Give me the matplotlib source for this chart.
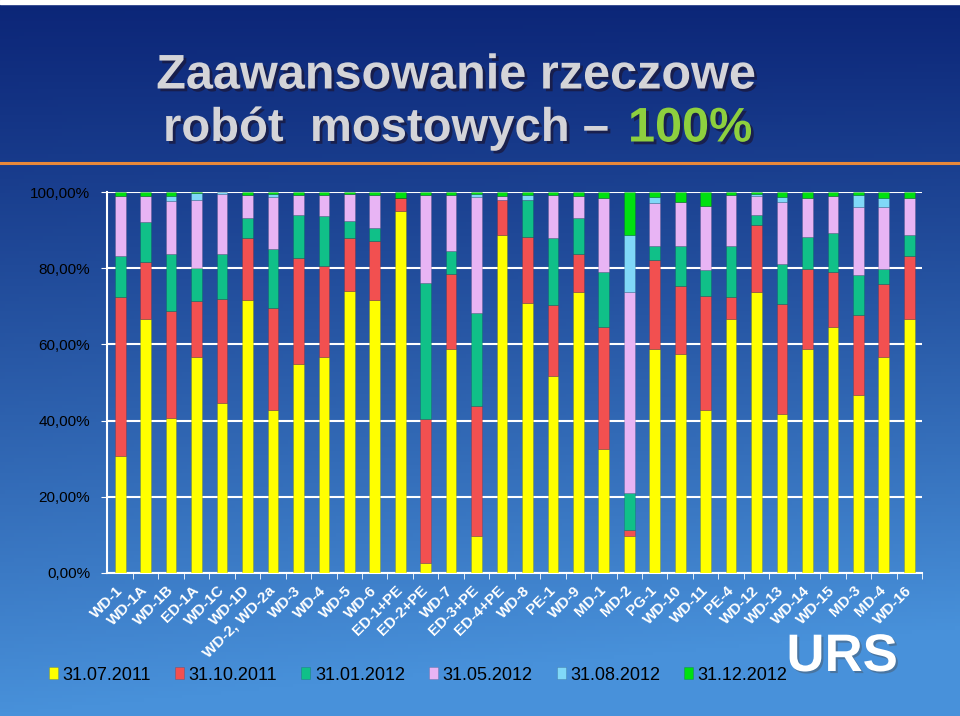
import numpy as np
import matplotlib
matplotlib.use("Agg")
import matplotlib.pyplot as plt
import matplotlib.patheffects as pe
from matplotlib.lines import Line2D
from matplotlib.patches import Rectangle

plt.rcParams['font.family'] = ['Liberation Sans', 'DejaVu Sans']

objects = ["WD-1", "WD-1A", "WD-1B", "ED-1A", "WD-1C", "WD-1D", "WD-2, WD-2a", "WD-3",
           "WD-4", "WD-5", "WD-6", "ED-1+PE", "ED-2+PE", "WD-7", "ED-3+PE", "ED-4+PE",
           "WD-8", "PE-1", "WD-9", "MD-1", "MD-2", "PG-1", "WD-10", "WD-11",
           "PE-4", "WD-12", "WD-13", "WD-14", "WD-15", "MD-3", "MD-4", "WD-16"]

dates = ["31.07.2011", "31.10.2011", "31.01.2012", "31.05.2012", "31.08.2012", "31.12.2012"]

# progress gained in each period (percent of total)
jul_2011 = [30.7, 66.7, 40.7, 56.7, 44.7, 71.7, 42.8, 54.8, 56.8, 73.9, 71.7, 94.9, 2.6, 58.8, 9.8, 88.8,
            70.8, 51.8, 73.7, 32.6, 9.8, 58.8, 57.6, 42.7, 66.7, 73.7, 41.8, 58.8, 64.6, 46.8, 56.8, 66.7]
oct_2011 = [41.8, 14.9, 28.1, 14.7, 27.2, 16.2, 26.7, 27.8, 23.9, 14.0, 15.5, 3.5, 37.9, 19.6, 34.0, 9.2,
            17.4, 18.6, 10.0, 32.0, 1.5, 23.4, 17.6, 30.0, 5.8, 17.7, 28.8, 21.0, 14.3, 20.9, 19.1, 16.4]
jan_2012 = [10.6, 10.4, 14.9, 8.6, 11.9, 5.3, 15.6, 11.3, 13.1, 4.4, 3.3, 0.0, 35.6, 6.2, 24.4, 0.0,
            9.8, 17.5, 9.5, 14.5, 9.8, 3.5, 10.5, 6.7, 13.2, 2.6, 10.5, 8.3, 10.3, 10.4, 3.9, 5.5]
may_2012 = [15.9, 7.0, 14.0, 18.0, 15.7, 6.1, 13.5, 5.4, 5.5, 7.2, 8.8, 0.0, 23.2, 14.7, 30.4, 1.0,
            0.0, 11.4, 5.7, 19.3, 52.6, 11.4, 11.8, 16.8, 13.4, 4.9, 16.4, 10.3, 9.7, 17.9, 16.2, 9.8]
aug_2012 = [0.0, 0.0, 1.3, 1.7, 0.5, 0.0, 0.9, 0.0, 0.0, 0.0, 0.0, 0.0, 0.0, 0.0, 0.9, 0.0,
            1.3, 0.0, 0.0, 0.0, 14.9, 1.5, 0.0, 0.0, 0.0, 0.6, 1.1, 0.0, 0.0, 3.3, 2.4, 0.0]
dec_2012 = [1.0, 1.0, 1.0, 0.3, 0.0, 0.7, 0.5, 0.7, 0.7, 0.5, 0.7, 1.6, 0.7, 0.7, 0.5, 1.0,
            0.7, 0.7, 1.1, 1.6, 11.4, 1.4, 2.5, 3.8, 0.9, 0.5, 1.4, 1.6, 1.1, 0.7, 1.6, 1.6]

series = [jul_2011, oct_2011, jan_2012, may_2012, aug_2012, dec_2012]
colors = ["#ffff00", "#f25050", "#10c088", "#e8b4f4", "#80d8f8", "#00e010"]

yticks = [0, 20, 40, 60, 80, 100]
ytick_labels = ["0,00%", "20,00%", "40,00%", "60,00%", "80,00%", "100,00%"]

W, H = 960, 716
fig = plt.figure(figsize=(9.6, 7.16), dpi=100)

# slide background: dark navy on top, lighter blue towards the bottom
bg = fig.add_axes([0, 0, 1, 1], zorder=-10)
yy, xx = np.mgrid[0:1:200j, 0:1:200j]
top = np.array([12, 38, 120]) / 255
bottom = np.array([72, 145, 218]) / 255
t = np.clip(yy ** 1.1 + 0.15 * xx * yy, 0, 1)[..., None]
img = top * (1 - t) + bottom * t
bg.imshow(img, aspect="auto", extent=[0, 1, 1, 0])
bg.set_xlim(0, 1)
bg.set_ylim(1, 0)
bg.axis("off")
bg.add_patch(Rectangle((0, 1 - 4 / H), 1, 4 / H, color="white", transform=bg.transAxes))

# orange separator under the title
fig.add_artist(Line2D([0, 1], [1 - 163 / H, 1 - 163 / H], color="#e8883a", lw=2.2))

shadow = [pe.withSimplePatchShadow(offset=(2, -2), shadow_rgbFace="#1a1a40", alpha=0.8)]
fig.text(456 / W, 1 - 76 / H, "Zaawansowanie rzeczowe", ha="center", va="center",
         fontsize=35, weight="bold", color="#d4d4d8", path_effects=shadow)
fig.text(163 / W, 1 - 129 / H, "robót  mostowych –", ha="left", va="center",
         fontsize=34, weight="bold", color="#d4d4d8", path_effects=shadow)
fig.text(628 / W, 1 - 129 / H, "100%", ha="left", va="center",
         fontsize=35, weight="bold", color="#8ed03e", path_effects=shadow)

# chart
ax = fig.add_axes([107 / W, 1 - 573 / H, 815 / W, 381 / H])
ax.patch.set_alpha(0)
x = np.arange(len(objects))
base = np.zeros(len(objects))
bars = []
for vals, col, lab in zip(series, colors, dates):
    vals = np.array(vals)
    b = ax.bar(x, vals, 0.42, bottom=base, color=col, label=lab,
               edgecolor=(0, 0, 0, 0.18), linewidth=0.5, zorder=3)
    bars.append(b)
    base += vals

ax.set_xlim(-0.52, 31.48)
ax.set_ylim(0, 100)
ax.set_yticks(yticks)
ax.set_yticklabels(ytick_labels, fontsize=11, color="black")
ax.yaxis.grid(True, color="white", lw=1.5, zorder=1)
ax.set_axisbelow(True)
ax.set_xticks(x)
ax.set_xticklabels(objects, rotation=45, ha="right", va="center", rotation_mode="anchor",
                   fontsize=11, weight="bold", color="white")
ax.set_xticks(x + 0.5, minor=True)
ax.tick_params(axis="x", which="major", length=0, pad=11)
ax.tick_params(axis="x", which="minor", length=4, color="white")
ax.tick_params(axis="y", length=4, color="white", pad=8)
for side in ["top", "right"]:
    ax.spines[side].set_visible(False)
for side in ["left", "bottom"]:
    ax.spines[side].set_color("white")
    ax.spines[side].set_linewidth(1.5)

leg = fig.legend(handles=bars, labels=dates, loc="center left", bbox_to_anchor=(42 / W, 1 - 675 / H),
                 ncol=6, frameon=False, fontsize=13, handlelength=0.5, handleheight=0.65,
                 handletextpad=0.25, columnspacing=1.33, borderaxespad=0)
for txt in leg.get_texts():
    txt.set_color("black")

fig.text(842 / W, 1 - 657 / H, "URS", ha="center", va="center", fontsize=38, weight="bold",
         color="white", path_effects=[pe.withSimplePatchShadow(offset=(1.5, -1.5), alpha=0.4)])

fig.savefig("out.png", dpi=100)
